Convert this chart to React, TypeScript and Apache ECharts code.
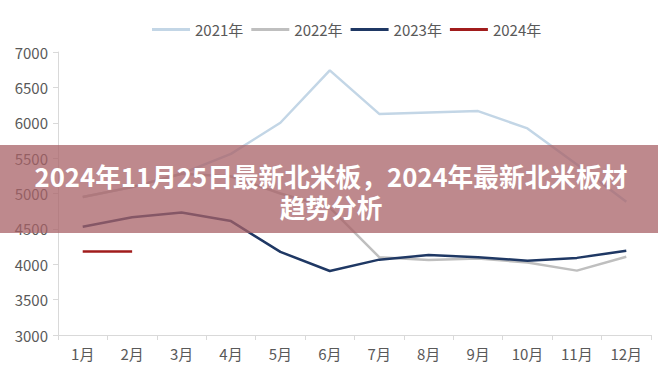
import React, { useEffect, useRef } from "react";
import * as echarts from "echarts";

const months = ["1月", "2月", "3月", "4月", "5月", "6月", "7月", "8月", "9月", "10月", "11月", "12月"];
const s2021 = [4950, 5090, 5280, 5560, 6000, 6740, 6125, 6145, 6165, 5920, 5410, 4885];
const s2022 = [4950, 5090, 5280, 5240, 5000, 4800, 4100, 4060, 4080, 4025, 3910, 4105];
const s2023 = [4530, 4665, 4730, 4610, 4175, 3905, 4065, 4130, 4100, 4050, 4090, 4190];
const s2024 = [4180, 4180];
const seriesNames = ["2021年", "2022年", "2023年", "2024年"];
const titleLines = ["2024年11月25日最新北米板，2024年最新北米板材", "趋势分析"];

const FONT = "'Noto Sans CJK SC', 'Noto Sans', sans-serif";

export default function App() {
  const ref = useRef<HTMLDivElement>(null);
  useEffect(() => {
    if (!ref.current) return;
    const chart = echarts.init(ref.current, null, { renderer: "svg" });
    const mk = (name: string, data: number[], color: string, z: number) => ({
      name,
      type: "line",
      data,
      symbol: "none",
      z,
      lineStyle: { color, width: 2.5 },
      itemStyle: { color },
    });
    chart.setOption({
      animation: false,
      backgroundColor: "#ffffff",
      textStyle: { fontFamily: FONT },
      legend: {
        top: 17,
        left: 147,
        icon: "rect",
        itemWidth: 38,
        itemHeight: 3,
        itemGap: 8,
        textStyle: { color: "#595959", fontSize: 15, fontFamily: FONT },
        data: seriesNames,
      },
      grid: { left: 58, right: 7, top: 52, bottom: 43 },
      xAxis: {
        type: "category",
        data: months,
        boundaryGap: true,
        axisLine: { lineStyle: { color: "#d9d9d9" } },
        axisTick: { show: true, length: 5, lineStyle: { color: "#d9d9d9" } },
        axisLabel: { color: "#595959", fontSize: 15, margin: 11, fontFamily: FONT },
      },
      yAxis: {
        type: "value",
        min: 3000,
        max: 7000,
        interval: 500,
        axisLine: { show: true, lineStyle: { color: "#d9d9d9" } },
        axisTick: { show: true, length: 5, lineStyle: { color: "#d9d9d9" } },
        splitLine: { show: false },
        axisLabel: {
          color: "#595959",
          fontSize: 15,
          margin: 10,
          fontFamily: FONT,
          formatter: (v: number) => String(v),
        },
      },
      series: [
        mk(seriesNames[0], s2021, "#c3d6e6", 2),
        mk(seriesNames[1], s2022, "#bfbfbf", 3),
        mk(seriesNames[2], s2023, "#1f3864", 4),
        mk(seriesNames[3], s2024, "#a11c1c", 5),
      ],
      graphic: [
        {
          type: "rect",
          left: 0,
          top: 145,
          z: 100,
          shape: { width: 658, height: 88 },
          style: { fill: "rgba(168,98,103,0.75)" },
        },
        {
          type: "text",
          x: 331,
          y: 160,
          z: 101,
          style: {
            text: titleLines.join("\n"),
            fill: "#ffffff",
            fontSize: 25.7,
            fontWeight: "bold",
            lineHeight: 31,
            align: "center",
            verticalAlign: "top",
            fontFamily: FONT,
          },
        },
      ],
    });
    return () => chart.dispose();
  }, []);
  return <div ref={ref} style={{ width: 658, height: 378, position: "absolute", left: 0, top: 0 }} />;
}
